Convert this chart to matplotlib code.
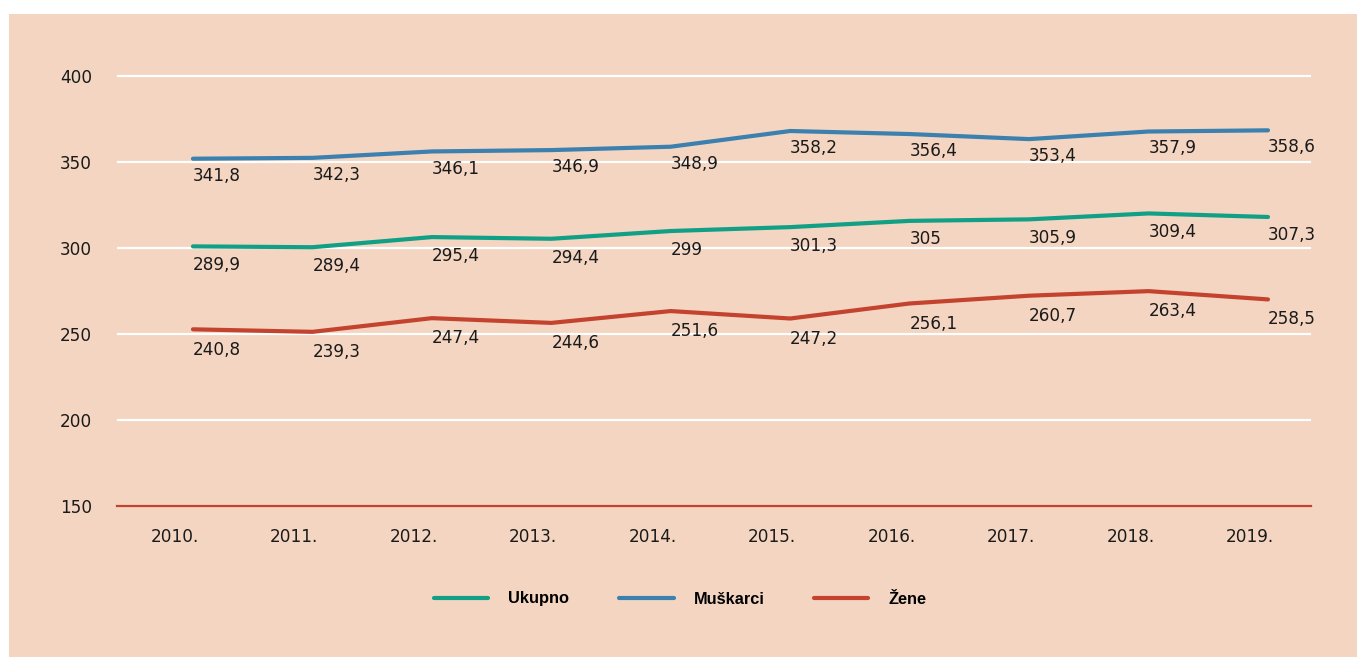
import matplotlib.pyplot as plt
import matplotlib.transforms as mtransforms
from matplotlib.patches import Rectangle
from matplotlib.lines import Line2D

# Podaci
godine = ['2010.', '2011.', '2012.', '2013.', '2014.', '2015.', '2016.', '2017.', '2018.', '2019.']
ukupno = [289.9, 289.4, 295.4, 294.4, 299, 301.3, 305, 305.9, 309.4, 307.3]
muskarci = [341.8, 342.3, 346.1, 346.9, 348.9, 358.2, 356.4, 353.4, 357.9, 358.6]
zene = [240.8, 239.3, 247.4, 244.6, 251.6, 247.2, 256.1, 260.7, 263.4, 258.5]

serije = [('Ukupno', ukupno, '#11a085'),
          ('Muškarci', muskarci, '#3b80ae'),
          ('Žene', zene, '#c3432f')]

pozadina = '#f3d5c1'
plt.rcParams['font.family'] = 'DejaVu Sans'

fig = plt.figure(figsize=(13.57, 6.57), dpi=100)
fig.patch.set_facecolor('white')
fig.patches.append(Rectangle((9 / 1357, 0), 1, 1 - 14 / 657, transform=fig.transFigure,
                             facecolor=pozadina, edgecolor='none', zorder=-10))

rect = [117 / 1357, 1 - 506 / 657, 1194 / 1357, (506 - 72.56) / 657]
ax = fig.add_axes(rect)
ax.set_facecolor('none')
ax.set_xlim(-0.636, 9.36)
ax.set_ylim(150, 402)
ax.set_yticks([150, 200, 250, 300, 350, 400])
ax.set_xticks(range(len(godine)))
ax.set_xticklabels(godine)
ax.yaxis.grid(True, color='white', linewidth=1.6)
ax.set_axisbelow(True)
for s in ['top', 'right', 'left']:
    ax.spines[s].set_visible(False)
ax.spines['bottom'].set_color('#c3432f')
ax.spines['bottom'].set_linewidth(1.6)
ax.tick_params(axis='both', length=0, labelsize=12.2, colors='#1a1a1a')
ax.tick_params(axis='y', pad=18)
ax.tick_params(axis='x', pad=16)

# oznake godina pomaknute ulijevo u odnosu na tocke
pomak = mtransforms.ScaledTranslation(-18 / 100, 0, fig.dpi_scale_trans)
for lab in ax.get_xticklabels():
    lab.set_transform(lab.get_transform() + pomak)

# linije na zasebnoj skali
ax2 = ax.twinx()
ax2.set_ylim(136.2, 392.8)
ax2.axis('off')

x = range(len(godine))
for ime, vrijednosti, boja in serije:
    ax2.plot(x, vrijednosti, color=boja, linewidth=3, solid_capstyle='round',
             solid_joinstyle='round')
    for xi, v in zip(x, vrijednosti):
        ax.text(xi, v, f'{v:g}'.replace('.', ','), ha='left', va='center',
                fontsize=12.2, color='#1a1a1a', zorder=5)

# legenda
ruke = [Line2D([0], [0], color=b, linewidth=3, solid_capstyle='round') for _, _, b in serije]
fig.legend(ruke, [s[0] for s in serije], loc='center', bbox_to_anchor=(680 / 1357, 1 - 599 / 657),
           ncol=3, frameon=False, handlelength=3.35, handletextpad=1.22, columnspacing=3.0,
           prop={'family': 'Liberation Sans', 'weight': 'bold', 'size': 11.8})

fig.savefig('out.png', dpi=100, facecolor=fig.get_facecolor())
